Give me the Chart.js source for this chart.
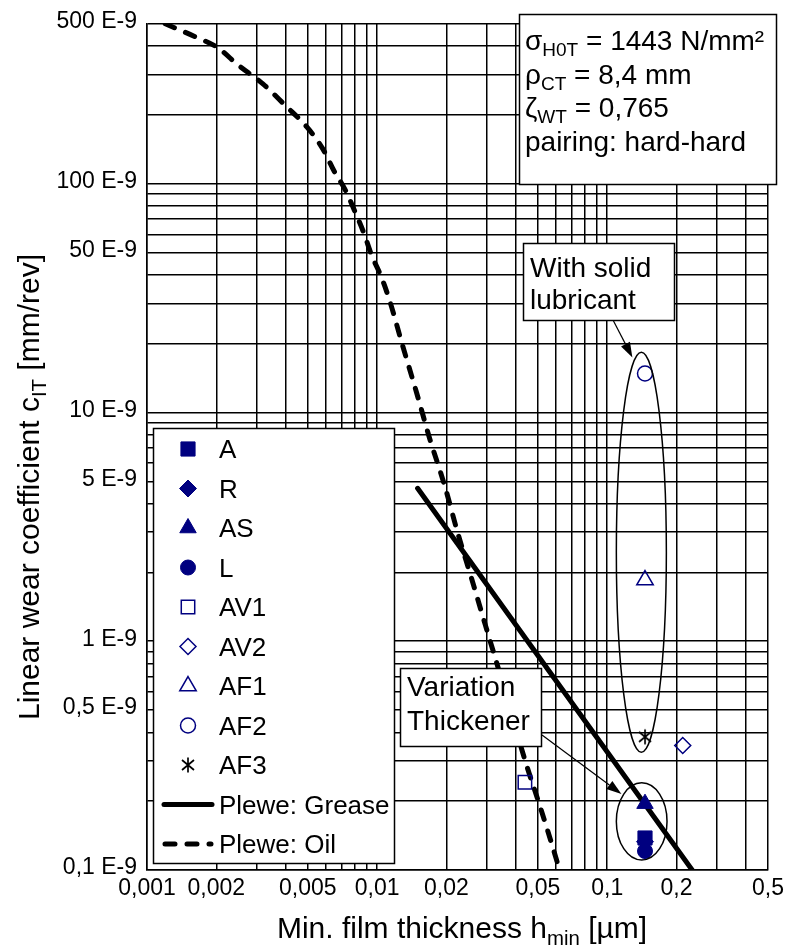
<!DOCTYPE html>
<html>
<head>
<meta charset="utf-8">
<script src="https://cdn.jsdelivr.net/npm/chart.js@4.4.1/dist/chart.umd.min.js"></script>
<style>
  html, body { margin: 0; padding: 0; background: #fff; }
  #wrap { position: relative; width: 789px; height: 951px; }
</style>
</head>
<body>
<div id="wrap"><canvas id="myChart"></canvas></div>
<script>
// measured values (log-log chart)
const groups = ['A', 'R', 'AS', 'L', 'AV1', 'AV2', 'AF1', 'AF2', 'AF3'];
const groupX = [0.146, 0.146, 0.146, 0.146, 0.0439, 0.213, 0.146, 0.146, 0.146];
const groupY = [1.38e-10, 1.33e-10, 1.95e-10, 1.21e-10, 2.42e-10, 3.5e-10, 1.85e-9, 1.48e-8, 3.82e-10];

const greaseX = [0.015, 0.234];
const greaseY = [4.66e-9, 1.0e-10];

const oilX = [0.00120, 0.00162, 0.00203, 0.00248, 0.00319, 0.00397, 0.00495, 0.00581, 0.00655, 0.00723,
  0.00799, 0.00875, 0.00948, 0.01037, 0.01134, 0.01291, 0.01485, 0.01692, 0.01965, 0.02238,
  0.02574, 0.02960, 0.0334, 0.0442, 0.0513, 0.0602, 0.0620];
const oilY = [5.0e-7, 4.39e-7, 3.93e-7, 3.31e-7, 2.73e-7, 2.21e-7, 1.77e-7, 1.42e-7, 1.12e-7, 9.5e-8,
  7.6e-8, 6.1e-8, 4.85e-8, 3.97e-8, 3.08e-8, 1.96e-8, 1.22e-8, 7.7e-9, 4.8e-9, 2.99e-9,
  1.88e-9, 1.17e-9, 7.8e-10, 2.96e-10, 1.87e-10, 1.11e-10, 1.0e-10];

const xTickValues = [0.001, 0.002, 0.005, 0.01, 0.02, 0.05, 0.1, 0.2, 0.5];
const xTickLabels = ['0,001', '0,002', '0,005', '0,01', '0,02', '0,05', '0,1', '0,2', '0,5'];
const yTickValues = [1e-10, 5e-10, 1e-9, 5e-9, 1e-8, 5e-8, 1e-7, 5e-7];
const yTickLabels = ['0,1 E-9', '0,5 E-9', '1 E-9', '5 E-9', '10 E-9', '50 E-9', '100 E-9', '500 E-9'];

const FONT = "'Liberation Sans', Arial, sans-serif";
const NAVY = '#000080';

// asterisk marker for AF3
const star = document.createElement('canvas');
star.width = 18; star.height = 18;
(function () {
  const c = star.getContext('2d');
  c.strokeStyle = '#000'; c.lineWidth = 1.7;
  c.beginPath();
  c.moveTo(9, 1.5); c.lineTo(9, 16.5);
  c.moveTo(3, 4); c.lineTo(15, 14);
  c.moveTo(3, 14); c.lineTo(15, 4);
  c.stroke();
})();

const markerStyles = [
  { style: 'rect', r: 10, fill: true },
  { style: 'rectRot', r: 8.5, fill: true },
  { style: 'triangle', r: 9.5, fill: true },
  { style: 'circle', r: 7.5, fill: true },
  { style: 'rect', r: 9.5, fill: false },
  { style: 'rectRot', r: 8, fill: false },
  { style: 'triangle', r: 9.5, fill: false },
  { style: 'circle', r: 7.5, fill: false },
  { style: star, r: 9, fill: false }
];

// every 1..9 x 10^n between min and max, for the grid
function gridValues(min, max) {
  const out = [];
  for (let e = -10; e <= 0; e++) {
    for (let m = 1; m < 10; m++) {
      const v = +(m * Math.pow(10, e)).toPrecision(3);
      if (v >= min * 0.999 && v <= max * 1.001) out.push(v);
    }
  }
  return out;
}
function labelFor(v, values, labels) {
  const i = values.findIndex(t => Math.abs(t - v) / t < 1e-6);
  return i >= 0 ? labels[i] : '';
}

function drawRich(ctx, parts, x, y, size) {
  let cx = x;
  for (const [t, sub] of parts) {
    const s = sub ? size * 0.68 : size;
    ctx.font = s + 'px ' + FONT;
    ctx.fillText(t, cx, sub ? y + size * 0.22 : y);
    cx += ctx.measureText(t).width;
  }
}
function richWidth(ctx, parts, size) {
  let w = 0;
  for (const [t, sub] of parts) {
    ctx.font = (sub ? size * 0.68 : size) + 'px ' + FONT;
    w += ctx.measureText(t).width;
  }
  return w;
}
function arrow(ctx, x0, y0, x1, y1) {
  const a = Math.atan2(y1 - y0, x1 - x0), L = 15, H = 5;
  const bx = x1 - L * Math.cos(a), by = y1 - L * Math.sin(a);
  ctx.beginPath(); ctx.moveTo(x0, y0); ctx.lineTo(bx, by); ctx.stroke();
  ctx.beginPath();
  ctx.moveTo(x1, y1);
  ctx.lineTo(bx + H * Math.sin(a), by - H * Math.cos(a));
  ctx.lineTo(bx - H * Math.sin(a), by + H * Math.cos(a));
  ctx.closePath(); ctx.fill();
}

// annotations: ellipses in data units, arrow tips in data units
const ellipses = [
  { xMin: 0.1096, xMax: 0.1808, yMin: 3.27e-10, yMax: 1.834e-8 },
  { xMin: 0.1096, xMax: 0.1820, yMin: 1.106e-10, yMax: 2.405e-10 }
];
const paramLines = [
  [['σ', false], ['H0T', true], [' = 1443 N/mm²', false]],
  [['ρ', false], ['CT', true], [' = 8,4 mm', false]],
  [['ζ', false], ['WT', true], [' = 0,765', false]],
  [['pairing: hard-hard', false]]
];

const overlay = {
  id: 'overlay',
  afterDatasetsDraw(chart) {
    const ctx = chart.ctx, xs = chart.scales.x, ys = chart.scales.y;
    ctx.save();
    ctx.strokeStyle = '#000'; ctx.fillStyle = '#000';

    // ellipses
    ctx.lineWidth = 1.5;
    ellipses.forEach(e => {
      const l = xs.getPixelForValue(e.xMin), r = xs.getPixelForValue(e.xMax);
      const t = ys.getPixelForValue(e.yMax), b = ys.getPixelForValue(e.yMin);
      ctx.beginPath();
      ctx.ellipse((l + r) / 2, (t + b) / 2, (r - l) / 2, (b - t) / 2, 0, 0, Math.PI * 2);
      ctx.stroke();
    });

    // arrows
    ctx.lineWidth = 1.2;
    arrow(ctx, 613, 320, xs.getPixelForValue(0.1287), ys.getPixelForValue(1.74e-8));
    arrow(ctx, 542, 735, xs.getPixelForValue(0.1153), ys.getPixelForValue(2.15e-10));

    // text boxes
    ctx.textAlign = 'left'; ctx.textBaseline = 'alphabetic';
    const box = (x, y, w, h) => {
      ctx.fillStyle = '#fff'; ctx.fillRect(x, y, w, h);
      ctx.lineWidth = 1.5; ctx.strokeStyle = '#000'; ctx.strokeRect(x, y, w, h);
      ctx.fillStyle = '#000';
    };
    box(519.5, 14.5, 257, 170);
    paramLines.forEach((p, i) => drawRich(ctx, p, 525, 50 + i * 33.5, 28));

    box(523.5, 243.5, 151, 77);
    drawRich(ctx, [['With solid', false]], 530, 277, 28);
    drawRich(ctx, [['lubricant', false]], 530, 309, 28);

    box(400.5, 668.5, 141, 78);
    drawRich(ctx, [['Variation', false]], 407, 696, 28);
    drawRich(ctx, [['Thickener', false]], 407, 730, 28);

    // legend
    box(153.5, 428.5, 241, 435);
    const rowY = i => 449 + i * 39.5;
    groups.forEach((name, i) => {
      const ds = chart.data.datasets[i];
      const y = rowY(i);
      ctx.fillStyle = ds.backgroundColor; ctx.strokeStyle = ds.borderColor;
      ctx.lineWidth = ds.borderWidth;
      Chart.helpers.drawPoint(ctx, { pointStyle: ds.pointStyle, radius: ds.pointRadius, rotation: 0, borderWidth: ds.borderWidth }, 188, y);
      ctx.fillStyle = '#000';
      drawRich(ctx, [[name, false]], 219, y + 9, 26);
    });
    ctx.strokeStyle = '#000'; ctx.lineWidth = 5; ctx.lineCap = 'round';
    let y = rowY(9);
    ctx.beginPath(); ctx.moveTo(164, y); ctx.lineTo(212, y); ctx.stroke();
    drawRich(ctx, [['Plewe: Grease', false]], 219, y + 9, 26);
    y = rowY(10);
    ctx.setLineDash([10, 12]);
    ctx.beginPath(); ctx.moveTo(165, y); ctx.lineTo(211, y); ctx.stroke();
    ctx.setLineDash([]);
    drawRich(ctx, [['Plewe: Oil', false]], 219, y + 9, 26);
    ctx.restore();
  },
  afterDraw(chart) {
    const ctx = chart.ctx;
    ctx.save();
    ctx.fillStyle = '#000'; ctx.textAlign = 'left'; ctx.textBaseline = 'alphabetic';
    const xt = [['Min. film thickness h', false], ['min', true], [' [µm]', false]];
    drawRich(ctx, xt, 462 - richWidth(ctx, xt, 30) / 2, 938, 30);
    const yt = [['Linear wear coefficient c', false], ['IT', true], [' [mm/rev]', false]];
    ctx.translate(39, 487);
    ctx.rotate(-Math.PI / 2);
    drawRich(ctx, yt, -richWidth(ctx, yt, 30) / 2, 0, 30);
    ctx.restore();
  }
};

const datasets = groups.map((name, i) => ({
  label: name,
  data: [{ x: groupX[i], y: groupY[i] }],
  showLine: false,
  pointStyle: markerStyles[i].style,
  pointRadius: markerStyles[i].r,
  pointHoverRadius: markerStyles[i].r,
  backgroundColor: markerStyles[i].fill ? NAVY : 'rgba(0,0,0,0)',
  borderColor: NAVY,
  borderWidth: markerStyles[i].fill ? 1 : 1.5
}));
datasets.push({
  label: 'Plewe: Grease',
  data: greaseX.map((x, i) => ({ x, y: greaseY[i] })),
  showLine: true, pointRadius: 0, borderColor: '#000', borderWidth: 5,
  borderCapStyle: 'round'
});
datasets.push({
  label: 'Plewe: Oil',
  data: oilX.map((x, i) => ({ x, y: oilY[i] })),
  showLine: true, pointRadius: 0, borderColor: '#000', borderWidth: 5,
  borderDash: [10, 12], borderCapStyle: 'round', cubicInterpolationMode: 'monotone'
});

const gridOpts = { color: '#000', lineWidth: 1.5, drawTicks: false };
const borderOpts = { color: '#000', width: 1.5 };

new Chart(document.getElementById('myChart'), {
  type: 'scatter',
  data: { datasets },
  options: {
    responsive: true,
    maintainAspectRatio: false,
    animation: false,
    layout: { padding: { top: 23, right: 20, left: 0, bottom: 0 } },
    plugins: { legend: { display: false }, tooltip: { enabled: false } },
    scales: {
      x: {
        type: 'logarithmic', min: 0.001, max: 0.5,
        afterFit: s => { s.height = 81; },
        afterBuildTicks: s => { s.ticks = gridValues(0.001, 0.5).map(v => ({ value: v })); },
        ticks: {
          autoSkip: false, maxRotation: 0, minRotation: 0, padding: 5, color: '#000',
          font: { family: FONT, size: 23 },
          callback: v => labelFor(v, xTickValues, xTickLabels)
        },
        grid: gridOpts, border: borderOpts
      },
      y: {
        type: 'logarithmic', min: 1e-10, max: 5e-7,
        afterFit: s => { s.width = 147; },
        afterBuildTicks: s => { s.ticks = gridValues(1e-10, 5e-7).map(v => ({ value: v })); },
        ticks: {
          autoSkip: false, padding: 10, color: '#000', labelOffset: -2,
          font: { family: FONT, size: 23 },
          callback: v => labelFor(v, yTickValues, yTickLabels)
        },
        grid: gridOpts, border: borderOpts
      }
    }
  },
  plugins: [overlay]
});
</script>
</body>
</html>
